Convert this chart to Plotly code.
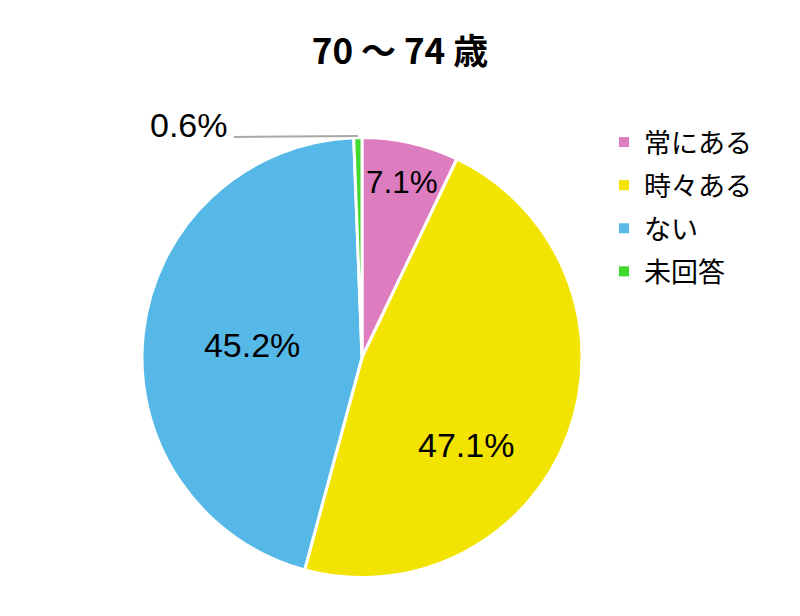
import plotly.graph_objects as go

title = "70 ～ 74 歳"
categories = ["常にある", "時々ある", "ない", "未回答"]
shares = [7.1, 47.1, 45.2, 0.6]
slice_colors = ["#DE7CC0", "#F2E400", "#56B8E6", "#3FD92E"]

label_font = dict(family="Liberation Sans, Arial", size=34, color="black")

# labels drawn by plotly for 7.1% / 45.2%, the other two placed by hand
inside_text = [f"{shares[0]:.1f}%", "", f"{shares[2]:.1f}%", ""]

fig = go.Figure()
fig.add_trace(
    go.Pie(
        labels=categories,
        values=shares,
        sort=False,
        direction="clockwise",
        rotation=0,
        marker=dict(colors=slice_colors, line=dict(color="white", width=3)),
        texttemplate=inside_text,
        textposition="inside",
        insidetextorientation="horizontal",
        textfont=label_font,
        domain=dict(x=[0.1675, 0.7175], y=[0.0747, 0.7906]),
        hoverinfo="label+percent",
        showlegend=False,
    )
)

# legend entries (separate traces so the rows can be spaced out)
for name, col in zip(categories, slice_colors):
    fig.add_trace(
        go.Scatter(
            x=[None], y=[None], mode="markers", name=name, legendgroup=name,
            marker=dict(symbol="square", size=10, color=col),
        )
    )

fig.add_annotation(
    x=0.5725, y=0.2906, xref="paper", yref="paper", text=f"{shares[1]:.1f}%",
    showarrow=False, xanchor="center", yanchor="middle", font=label_font,
)
fig.add_annotation(
    x=0.175, y=0.810, xref="paper", yref="paper", text=f"{shares[3]:.1f}%",
    showarrow=False, xanchor="left", yanchor="middle", font=label_font,
)
fig.add_shape(type="line", xref="paper", yref="paper",
              x0=0.2825, y0=0.7906, x1=0.4375, y1=0.7922,
              line=dict(color="#A8A8A8", width=2))

fig.update_layout(
    width=800, height=616,
    paper_bgcolor="white", plot_bgcolor="white",
    margin=dict(l=0, r=0, t=0, b=0),
    xaxis=dict(visible=False),
    yaxis=dict(visible=False),
    title=dict(text=f"<b>{title}</b>", x=0.49, xanchor="center", y=0.9286, yanchor="middle",
               font=dict(family="Noto Sans CJK JP", size=35, color="black")),
    legend=dict(x=0.745, y=0.8214, xanchor="left", yanchor="top",
                font=dict(family="Noto Sans CJK JP", size=27, color="black"),
                itemwidth=30, tracegroupgap=5, traceorder="grouped"),
    showlegend=True,
)

fig.write_html("out.html")
